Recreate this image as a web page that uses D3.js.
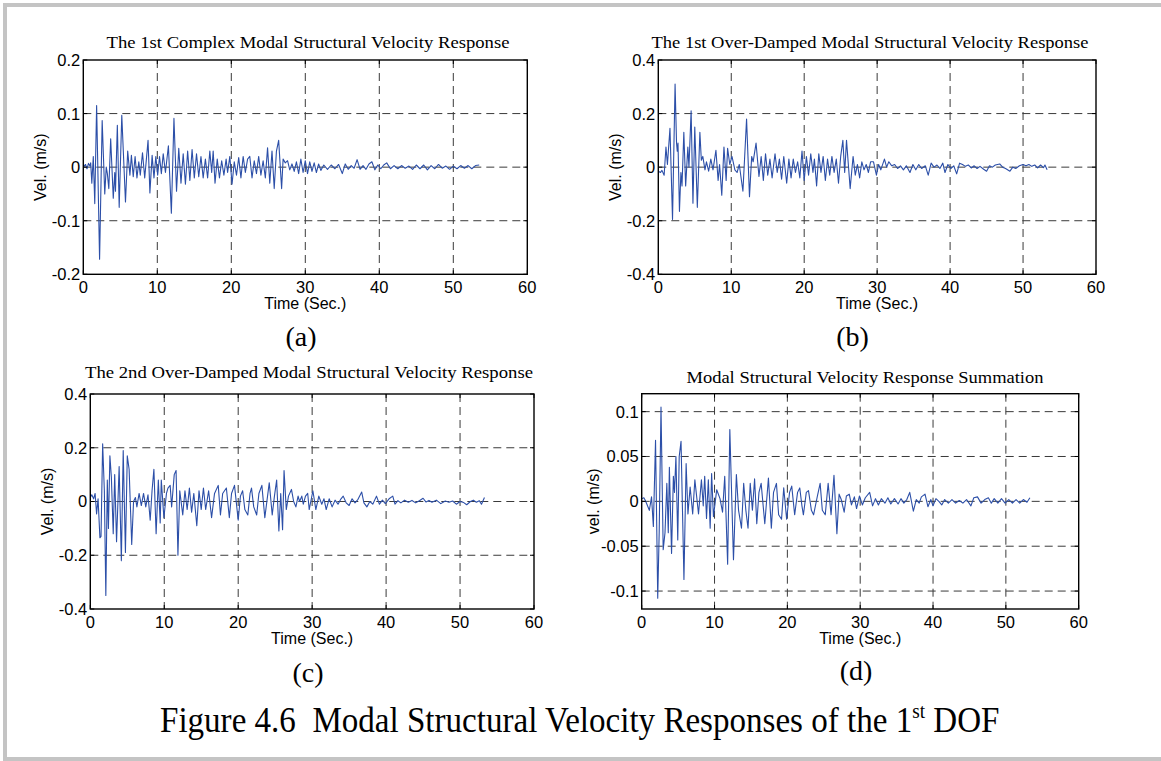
<!DOCTYPE html>
<html lang="en">
<head>
  <meta charset="UTF-8">
  <title>Figure 4.6 Modal Structural Velocity Responses of the 1st DOF</title>
  <script src="https://d3js.org/d3.v7.min.js"></script>
  <style>
    body {
      margin: 0;
      background: #fff;
    }
    svg {
      display: block;
    }
    .tick-label {
      font-family: "Liberation Sans", Arial, sans-serif;
      font-size: 16.5px;
      fill: #000;
    }
    .axis-label {
      font-family: "Liberation Sans", Arial, sans-serif;
      font-size: 16px;
      fill: #000;
    }
    .panel-title {
      font-family: "Liberation Serif", "Times New Roman", serif;
      font-size: 17.5px;
      fill: #000;
    }
    .panel-letter {
      font-family: "Liberation Serif", "Times New Roman", serif;
      font-size: 28px;
      fill: #000;
    }
    .grid {
      stroke: #3a3a3a;
      stroke-width: 1;
      stroke-dasharray: 8,5;
    }
    .signal {
      fill: none;
      stroke: #2c4fa8;
      stroke-width: 1.1;
      stroke-linejoin: round;
    }
  </style>
</head>
<body>
<svg id="chart" width="1161" height="761"></svg>
<script>
  // x axis (time, s) shared by all panels
  const xTicks = [0, 10, 20, 30, 40, 50, 60];

  // y axis ticks per panel
  const yTicksA = [-0.2, -0.1, 0, 0.1, 0.2];
  const yTicksB = [-0.4, -0.2, 0, 0.2, 0.4];
  const yTicksC = [-0.4, -0.2, 0, 0.2, 0.4];
  const yTicksD = [-0.1, -0.05, 0, 0.05, 0.1];

  // (a) 1st complex modal velocity, [time, vel]
  const velA = [[0,0],[0.3,0.005],[0.5,-0.003],[0.7,0.007],[0.9,0.002],[1.0,0.008],[1.15,-0.03],[1.35,0.02],[1.55,-0.068],[1.8,0.115],[2.2,-0.172],[2.55,0.087],[2.9,-0.05],[3.1,0.0],[3.25,-0.012],[3.45,-0.04],[3.7,0.053],[4.05,-0.058],[4.25,-0.01],[4.35,-0.045],[4.6,0.078],[4.85,-0.075],[5.2,0.097],[5.7,-0.065],[6.0,0.03],[6.3,-0.015],[6.5,0.022],[6.75,-0.018],[7.0,0.02],[7.25,-0.02],[7.5,0.01],[7.7,-0.015],[8.0,0.027],[8.3,-0.02],[8.75,0.05],[9.0,-0.048],[9.3,0.022],[9.55,-0.02],[9.8,0.02],[10.05,-0.015],[10.3,0.02],[10.55,-0.012],[10.8,0.025],[11.1,-0.01],[11.5,0.04],[11.9,-0.086],[12.25,0.091],[12.6,-0.045],[12.9,0.035],[13.2,-0.03],[13.5,0.025],[13.8,-0.032],[14.1,0.03],[14.4,-0.025],[14.7,0.033],[15.0,-0.02],[15.3,0.025],[15.6,-0.018],[15.9,0.02],[16.2,-0.02],[16.5,0.015],[16.8,-0.02],[17.1,0.03],[17.35,-0.01],[17.55,0.03],[17.8,-0.03],[18.1,0.015],[18.4,-0.02],[18.7,0.012],[19.0,-0.015],[19.3,0.015],[19.5,-0.01],[19.8,0.02],[20.1,-0.032],[20.4,0.01],[20.7,-0.015],[21.0,0.018],[21.3,-0.02],[21.6,0.02],[21.9,-0.01],[22.2,0.015],[22.5,0.02],[22.8,-0.02],[23.1,0.012],[23.4,-0.012],[23.7,0.02],[24.0,-0.015],[24.3,0.012],[24.6,-0.02],[24.9,0.036],[25.2,-0.03],[25.5,0.03],[25.8,-0.04],[26.1,0.03],[26.4,0.05],[26.8,-0.04],[27.0,0.015],[27.3,0.008],[27.6,0.012],[27.9,-0.005],[28.2,0.006],[28.5,-0.008],[28.8,0.01],[29.1,-0.012],[29.4,0.015],[29.7,-0.01],[30.0,0.012],[30.3,-0.012],[30.6,0.01],[30.9,-0.008],[31.2,0.008],[31.5,-0.01],[31.8,0.006],[32.1,-0.006],[32.5,0.004],[33.0,-0.004],[33.5,0.004],[34.0,-0.003],[34.5,0.005],[35.0,-0.012],[35.4,0.006],[35.8,-0.004],[36.2,0.003],[36.6,-0.002],[37.0,0.014],[37.4,-0.004],[37.8,0.003],[38.2,-0.004],[38.6,0.006],[39.0,0.01],[39.4,-0.005],[39.8,0.004],[40.2,-0.003],[40.6,0.004],[41.0,0.008],[41.5,-0.003],[42.0,0.003],[42.5,-0.003],[43.0,0.003],[43.5,-0.002],[44.0,0.002],[44.5,-0.004],[45.0,0.004],[45.5,-0.003],[46.0,0.004],[46.5,-0.005],[47.0,0.003],[47.5,-0.003],[48.0,0.005],[48.5,-0.002],[49.0,0.002],[49.5,-0.004],[50.0,0.002],[50.5,-0.003],[51.0,0.003],[51.5,-0.002],[52.0,0.003],[52.5,-0.003],[53.0,0.003],[53.5,0.004]];

  // (b) 1st over-damped modal velocity
  const velB = [[0,-0.015],[0.3,-0.02],[0.5,-0.012],[0.8,-0.03],[1.05,0.075],[1.25,0.01],[1.6,0.145],[1.95,-0.195],[2.3,0.31],[2.5,0.09],[2.6,0.06],[2.7,0.09],[2.9,-0.165],[3.1,-0.02],[3.25,-0.07],[3.5,0.13],[3.75,-0.07],[4.05,0.075],[4.2,0.0],[4.5,0.21],[4.75,-0.135],[5.0,0.15],[5.35,-0.15],[5.7,0.13],[5.9,0.026],[6.1,0.04],[6.4,-0.01],[6.6,0.02],[6.9,-0.015],[7.2,0.03],[7.5,-0.01],[7.9,0.063],[8.2,-0.05],[8.4,0.01],[8.7,-0.105],[9.0,0.075],[9.3,-0.05],[9.5,0.07],[9.8,0.01],[10.1,0.04],[10.5,-0.01],[10.8,-0.02],[11.1,0.01],[11.6,-0.09],[12.1,0.18],[12.5,-0.11],[12.8,0.04],[13.0,0.02],[13.4,0.09],[13.8,-0.035],[14.1,0.04],[14.4,-0.05],[14.7,0.05],[15.0,-0.03],[15.3,0.03],[15.6,-0.04],[16.0,0.05],[16.3,-0.02],[16.6,0.03],[16.9,-0.045],[17.2,0.04],[17.6,-0.06],[17.9,0.03],[18.2,-0.04],[18.5,0.03],[18.8,-0.02],[19.1,0.02],[19.4,-0.04],[19.7,0.06],[20.0,-0.05],[20.3,0.04],[20.6,-0.03],[20.9,0.05],[21.2,-0.02],[21.4,0.03],[21.7,-0.07],[22.0,0.05],[22.3,-0.02],[22.6,0.04],[22.9,-0.05],[23.2,0.03],[23.5,-0.03],[23.8,0.04],[24.1,-0.02],[24.4,0.03],[24.7,-0.06],[25.0,0.04],[25.3,0.1],[25.55,-0.02],[25.8,0.1],[26.3,-0.08],[26.7,0.04],[27.0,-0.03],[27.3,0.01],[27.6,-0.04],[27.9,0.02],[28.2,-0.01],[28.5,0.01],[28.8,-0.02],[29.1,0.02],[29.5,0.02],[29.9,-0.03],[30.2,0.01],[30.5,-0.01],[31.0,0.03],[31.3,0.0],[31.6,0.02],[32.0,0.005],[32.4,0.01],[32.8,-0.005],[33.2,0.005],[33.6,-0.01],[34.0,0.005],[34.5,-0.02],[34.9,0.01],[35.3,-0.01],[35.7,0.01],[36.1,-0.005],[36.6,0.005],[37.0,-0.03],[37.4,0.015],[37.8,0.0],[38.2,0.008],[38.6,-0.005],[39.0,0.015],[39.3,-0.02],[39.7,0.01],[40.1,-0.005],[40.5,0.005],[40.9,-0.025],[41.3,0.015],[41.7,0.01],[42.1,0.003],[42.5,0.008],[42.9,-0.003],[43.3,0.005],[43.7,-0.005],[44.1,0.003],[44.6,-0.008],[45.0,-0.015],[45.4,0.005],[45.8,0.0],[46.2,0.008],[46.8,0.012],[47.2,0.0],[47.6,-0.005],[48.2,-0.015],[48.6,0.0],[49.0,-0.005],[49.5,0.005],[50.0,0.01],[50.4,0.005],[50.8,0.01],[51.2,0.003],[51.6,0.008],[52.0,-0.003],[52.4,0.008],[52.8,-0.002],[53.0,0.008],[53.3,-0.01]];

  // (c) 2nd over-damped modal velocity
  const velC = [[0,0.015],[0.2,0.025],[0.45,0.01],[0.65,0.03],[0.85,-0.046],[1.05,0.01],[1.3,-0.135],[1.45,-0.13],[1.67,0.215],[1.9,0.04],[2.1,-0.35],[2.3,0.08],[2.45,-0.1],[2.65,0.17],[2.85,0.09],[3.1,-0.12],[3.3,0.1],[3.55,-0.15],[3.9,0.13],[4.2,-0.22],[4.45,0.19],[4.75,-0.19],[5.0,0.17],[5.25,0.12],[5.6,-0.16],[5.85,0.0],[6.1,0.015],[6.3,-0.02],[6.6,0.03],[6.9,-0.015],[7.2,0.03],[7.5,-0.02],[7.8,0.025],[8.1,-0.07],[8.35,0.04],[8.6,0.12],[8.9,-0.12],[9.2,0.08],[9.45,-0.08],[9.6,0.08],[9.95,-0.06],[10.3,0.03],[10.5,0.05],[10.8,0.06],[11.0,-0.02],[11.35,0.1],[11.6,0.115],[11.85,-0.2],[12.1,0.04],[12.5,-0.05],[12.8,0.04],[13.1,-0.03],[13.4,0.05],[13.7,-0.04],[14.0,0.03],[14.4,-0.09],[14.7,0.04],[15.0,-0.03],[15.3,0.05],[15.6,-0.03],[16.0,0.04],[16.4,-0.06],[16.8,0.03],[17.3,0.06],[17.6,-0.05],[17.9,0.03],[18.4,0.05],[18.8,-0.06],[19.1,0.03],[19.5,0.06],[20.0,-0.07],[20.3,0.02],[20.6,0.04],[20.9,-0.03],[21.3,-0.05],[21.6,0.03],[21.8,0.05],[22.1,-0.02],[22.5,-0.05],[22.8,0.03],[23.2,0.06],[23.6,-0.06],[24.2,0.07],[24.6,-0.05],[24.9,0.02],[25.2,0.08],[25.5,-0.11],[25.75,0.03],[26.0,-0.105],[26.2,0.115],[26.5,-0.03],[26.8,0.02],[27.2,0.045],[27.5,0.0],[27.8,-0.02],[28.1,0.02],[28.3,0.0],[28.6,0.02],[28.8,-0.01],[29.1,0.02],[29.4,0.03],[29.6,-0.03],[30.1,0.04],[30.5,-0.03],[30.9,0.02],[31.3,-0.01],[31.6,0.01],[31.9,-0.03],[32.3,0.01],[32.7,-0.02],[33.1,0.005],[33.5,-0.01],[33.9,0.01],[34.2,0.02],[34.6,-0.005],[35.0,-0.015],[35.4,0.01],[35.8,-0.005],[36.2,0.008],[36.7,0.035],[37.0,-0.005],[37.4,-0.02],[37.8,0.0],[38.2,-0.01],[38.7,0.02],[39.1,-0.01],[39.5,0.005],[39.9,-0.008],[40.4,0.01],[40.9,0.02],[41.2,-0.01],[41.6,0.003],[42.0,-0.005],[42.5,0.005],[43.0,-0.003],[43.5,0.004],[44.0,-0.005],[44.5,0.003],[45.0,0.012],[45.4,-0.002],[45.8,0.004],[46.2,-0.003],[46.8,0.005],[47.4,-0.008],[48.0,0.002],[48.5,-0.003],[49.0,0.002],[49.5,-0.01],[50.0,0.0],[50.5,-0.004],[50.9,-0.012],[51.4,0.0],[51.8,0.005],[52.2,-0.003],[52.6,0.003],[52.9,-0.01],[53.3,0.015]];

  // (d) summation
  const velD = [[0,0.003],[0.3,0.004],[0.5,0.001],[0.7,-0.003],[1.05,-0.01],[1.35,0.005],[1.6,-0.028],[1.9,0.068],[2.2,-0.108],[2.4,-0.035],[2.65,0.105],[2.95,-0.054],[3.2,-0.035],[3.45,0.02],[3.65,-0.035],[3.8,0.038],[4.1,-0.058],[4.35,0.028],[4.5,0.01],[4.7,0.05],[4.95,-0.043],[5.15,0.05],[5.4,0.067],[5.8,-0.087],[6.1,0.042],[6.35,-0.014],[6.65,0.016],[7.0,-0.014],[7.3,0.024],[7.8,-0.014],[8.2,0.024],[8.45,-0.005],[8.65,0.028],[8.9,-0.019],[9.15,0.024],[9.4,-0.03],[9.6,0.031],[9.85,-0.017],[10.3,0.013],[10.75,0.003],[11.1,-0.012],[11.4,0.028],[11.8,-0.07],[12.1,0.08],[12.6,-0.065],[13.0,0.03],[13.3,-0.01],[13.7,-0.03],[14.0,0.02],[14.3,-0.01],[14.6,-0.03],[14.9,0.02],[15.2,-0.01],[15.5,0.025],[15.8,-0.025],[16.1,0.01],[16.4,0.02],[16.9,-0.025],[17.4,0.026],[17.8,-0.03],[18.1,0.01],[18.5,0.02],[18.8,-0.015],[19.2,-0.02],[19.5,0.015],[19.9,-0.02],[20.3,0.01],[20.6,0.017],[21.0,-0.015],[21.4,0.01],[21.7,0.015],[22.0,-0.005],[22.2,-0.015],[22.6,0.01],[22.9,0.012],[23.3,-0.01],[23.6,-0.015],[24.1,0.005],[24.5,0.02],[24.8,-0.01],[25.2,-0.015],[25.6,0.02],[26.0,-0.015],[26.4,0.029],[26.8,-0.036],[27.1,0.008],[27.4,0.002],[27.8,-0.012],[28.1,0.006],[28.5,0.008],[28.8,-0.004],[29.2,0.005],[29.5,-0.008],[29.9,0.006],[30.3,-0.004],[30.7,0.004],[31.3,0.01],[31.7,-0.005],[32.1,0.003],[32.5,-0.004],[32.9,0.003],[33.4,-0.002],[33.8,0.004],[34.2,-0.003],[34.7,0.003],[35.2,-0.003],[35.6,0.003],[36.0,-0.002],[36.4,0.002],[36.8,0.01],[37.3,-0.011],[37.7,0.002],[38.1,-0.002],[38.4,0.005],[38.9,0.008],[39.3,-0.006],[39.7,0.002],[40.0,-0.005],[40.4,0.003],[40.8,0.0],[41.2,-0.004],[41.6,0.002],[42.1,-0.002],[42.6,0.002],[43.1,-0.002],[43.6,0.001],[44.1,-0.002],[44.6,0.002],[45.2,-0.005],[45.6,0.004],[46.1,0.005],[46.6,-0.002],[47.1,0.002],[47.6,0.004],[48.0,-0.002],[48.4,0.003],[48.9,-0.002],[49.4,0.003],[49.9,-0.002],[50.4,0.002],[50.9,-0.002],[51.4,0.002],[51.9,-0.002],[52.4,0.002],[52.9,-0.001],[53.3,0.004]];

  // panel layout
  const panels = [
    { data: velA, yDomain: [-0.2, 0.2], yTicks: yTicksA, left: 83.3, top: 60, width: 444, height: 214.3,
      title: "The 1st Complex Modal Structural Velocity Response", titleX: 308, titleY: 48, titleW: 403,
      yLabel: "Vel. (m/s)", yLabelX: 40, letter: "(a)", letterX: 301, letterY: 346 },
    { data: velB, yDomain: [-0.4, 0.4], yTicks: yTicksB, left: 658.3, top: 60, width: 437.7, height: 214.3,
      title: "The 1st Over-Damped Modal Structural Velocity Response", titleX: 870, titleY: 48, titleW: 437,
      yLabel: "Vel. (m/s)", yLabelX: 615, letter: "(b)", letterX: 852.5, letterY: 346 },
    { data: velC, yDomain: [-0.4, 0.4], yTicks: yTicksC, left: 90.3, top: 394, width: 443.7, height: 215,
      title: "The 2nd Over-Damped Modal Structural Velocity Response", titleX: 309, titleY: 378, titleW: 448,
      yLabel: "Vel. (m/s)", yLabelX: 47, letter: "(c)", letterX: 308, letterY: 682 },
    { data: velD, yDomain: [-0.12, 0.12], yTicks: yTicksD, left: 641.7, top: 393.7, width: 437, height: 215.3,
      title: "Modal Structural Velocity Response Summation", titleX: 865, titleY: 382.5, titleW: 357,
      yLabel: "vel. (m/s)", yLabelX: 593, letter: "(d)", letterX: 856, letterY: 680 }
  ];

  const svg = d3.select("#chart");

  // light grey frame around the figure
  svg.append("rect")
    .attr("x", 5).attr("y", 5)
    .attr("width", 1200).attr("height", 754)
    .attr("fill", "#fff")
    .attr("stroke", "#c4c4c4")
    .attr("stroke-width", 4);

  function fmt(v) {
    return String(+v.toFixed(3));
  }

  panels.forEach(p => {
    const x = d3.scaleLinear().domain([0, 60]).range([p.left, p.left + p.width]);
    const y = d3.scaleLinear().domain(p.yDomain).range([p.top + p.height, p.top]);
    const g = svg.append("g");

    // grid (dashed), skip lines lying on the box
    g.selectAll(".vgrid")
      .data(xTicks.filter(t => t > 0 && t < 60))
      .enter().append("line")
      .attr("class", "grid")
      .attr("x1", d => x(d)).attr("x2", d => x(d))
      .attr("y1", p.top).attr("y2", p.top + p.height);

    g.selectAll(".hgrid")
      .data(p.yTicks.filter(t => t > p.yDomain[0] && t < p.yDomain[1]))
      .enter().append("line")
      .attr("class", "grid")
      .attr("x1", p.left).attr("x2", p.left + p.width)
      .attr("y1", d => y(d)).attr("y2", d => y(d));

    // signal
    const line = d3.line().x(d => x(d[0])).y(d => y(d[1]));
    g.append("path")
      .datum(p.data)
      .attr("class", "signal")
      .attr("d", line);

    // inward ticks
    const tl = 4;
    xTicks.forEach(t => {
      g.append("line").attr("x1", x(t)).attr("x2", x(t))
        .attr("y1", p.top + p.height).attr("y2", p.top + p.height - tl)
        .attr("stroke", "#000");
      g.append("line").attr("x1", x(t)).attr("x2", x(t))
        .attr("y1", p.top).attr("y2", p.top + tl)
        .attr("stroke", "#000");
    });
    p.yTicks.forEach(t => {
      g.append("line").attr("x1", p.left).attr("x2", p.left + tl)
        .attr("y1", y(t)).attr("y2", y(t)).attr("stroke", "#000");
      g.append("line").attr("x1", p.left + p.width).attr("x2", p.left + p.width - tl)
        .attr("y1", y(t)).attr("y2", y(t)).attr("stroke", "#000");
    });

    // axes box
    g.append("rect")
      .attr("x", p.left).attr("y", p.top)
      .attr("width", p.width).attr("height", p.height)
      .attr("fill", "none")
      .attr("stroke", "#000")
      .attr("stroke-width", 1.4);

    // tick labels
    g.selectAll(".xl")
      .data(xTicks)
      .enter().append("text")
      .attr("class", "tick-label")
      .attr("x", d => x(d))
      .attr("y", p.top + p.height + 19)
      .attr("text-anchor", "middle")
      .text(d => d);

    g.selectAll(".yl")
      .data(p.yTicks)
      .enter().append("text")
      .attr("class", "tick-label")
      .attr("x", p.left - 3)
      .attr("y", d => y(d))
      .attr("dy", "0.36em")
      .attr("text-anchor", "end")
      .text(d => fmt(d));

    // axis labels
    g.append("text")
      .attr("class", "axis-label")
      .attr("x", p.left + p.width / 2)
      .attr("y", p.top + p.height + 35)
      .attr("text-anchor", "middle")
      .text("Time (Sec.)");

    g.append("text")
      .attr("class", "axis-label")
      .attr("transform", `translate(${p.yLabelX},${p.top + p.height / 2}) rotate(-90)`)
      .attr("text-anchor", "middle")
      .attr("dy", "0.36em")
      .text(p.yLabel);

    // title
    g.append("text")
      .attr("class", "panel-title")
      .attr("x", p.titleX - p.titleW / 2)
      .attr("y", p.titleY)
      .attr("textLength", p.titleW)
      .attr("lengthAdjust", "spacingAndGlyphs")
      .text(p.title);

    // sub-figure letter
    g.append("text")
      .attr("class", "panel-letter")
      .attr("x", p.letterX)
      .attr("y", p.letterY)
      .attr("text-anchor", "middle")
      .text(p.letter);
  });

  // figure caption (condensed serif, as in the scanned figure)
  const cap = svg.append("text")
    .attr("font-family", "'Liberation Serif', 'Times New Roman', serif")
    .attr("font-size", 36)
    .attr("y", 732);
  cap.append("tspan").text("Figure 4.6\u00a0\u00a0Modal Structural Velocity Responses of the 1");
  cap.append("tspan").attr("font-size", 21).attr("dy", -14).text("st");
  cap.append("tspan").attr("dy", 14).text(" DOF");

  const capW = cap.node().getBBox().width;
  const targetW = 840;
  const sx = targetW / capW;
  cap.attr("transform", `translate(${580 - targetW / 2},0) scale(${sx},1)`);
</script>
</body>
</html>
